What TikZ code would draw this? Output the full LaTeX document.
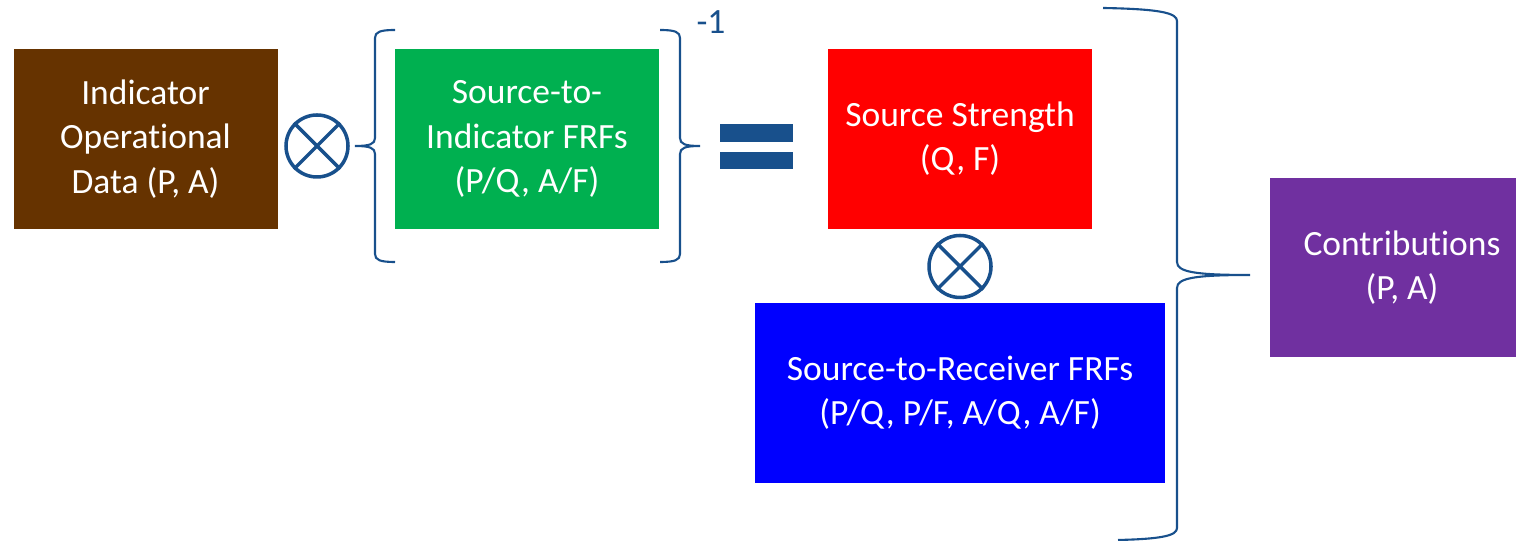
\documentclass[tikz,border=0pt]{standalone}
\usepackage{fontspec}
\setmainfont{Carlito}[RawFeature={-liga;-calt;-dlig}]
\definecolor{indbrown}{RGB}{102,51,0}
\definecolor{indgreen}{RGB}{0,176,80}
\definecolor{srcred}{RGB}{255,0,0}
\definecolor{rcvblue}{RGB}{0,0,255}
\definecolor{contpurple}{RGB}{112,48,160}
\definecolor{opblue}{RGB}{24,80,140}
\tikzset{
  box/.style={rectangle, minimum width=2.64cm, minimum height=1.80cm, inner sep=0pt,
    text=white, align=center, font=\fontsize{10.1}{12.6}\selectfont},
  mult/.style={circle, draw=opblue, line width=1pt, minimum size=0.62cm, inner sep=0pt},
  brace/.style={draw=opblue, line width=0.6pt}
}
\begin{document}
\begin{tikzpicture}
\clip (0,0) rectangle (15.16,-5.41);

\node[box, fill=indbrown] (indicator) at (1.455,-1.39) {Indicator\\Operational\\Data (P, A)};
\node[box, fill=indgreen] (sifrf) at (5.27,-1.39) {Source-to-\\Indicator FRFs\\(P/Q, A/F)};
\node[box, fill=srcred] (strength) at (9.60,-1.39) {Source Strength\\(Q, F)};
\node[box, fill=rcvblue, minimum width=4.10cm] (srfrf) at (9.60,-3.93) {Source-to-Receiver FRFs\\(P/Q, P/F, A/Q, A/F)};
\node[box, fill=contpurple, minimum height=1.79cm] (contrib) at (14.02,-2.675) {Contribut\kern0pt ions\\(P, A)};

\node[mult] (mult1) at (3.17,-1.46) {};
\draw[opblue, line width=1pt] (mult1.north west) -- (mult1.south east) (mult1.north east) -- (mult1.south west);
\node[mult] (mult2) at (9.60,-2.665) {};
\draw[opblue, line width=1pt] (mult2.north west) -- (mult2.south east) (mult2.north east) -- (mult2.south west);

% equals sign
\fill[opblue] (7.20,-1.24) rectangle (7.93,-1.42);
\fill[opblue] (7.20,-1.52) rectangle (7.93,-1.69);

% inverse brackets
\draw[brace] (3.95,-0.30) .. controls (3.80,-0.30) and (3.75,-0.32) .. (3.75,-0.38) -- (3.75,-1.38)
  .. controls (3.75,-1.44) and (3.70,-1.46) .. (3.55,-1.46)
  .. controls (3.70,-1.46) and (3.75,-1.48) .. (3.75,-1.54) -- (3.75,-2.54)
  .. controls (3.75,-2.60) and (3.80,-2.62) .. (3.95,-2.62);
\draw[brace] (6.60,-0.30) .. controls (6.75,-0.30) and (6.80,-0.32) .. (6.80,-0.38) -- (6.80,-1.38)
  .. controls (6.80,-1.44) and (6.85,-1.46) .. (7.00,-1.46)
  .. controls (6.85,-1.46) and (6.80,-1.48) .. (6.80,-1.54) -- (6.80,-2.54)
  .. controls (6.80,-2.60) and (6.75,-2.62) .. (6.60,-2.62);
\node[text=opblue, font=\fontsize{10.1}{12.3}\selectfont] (inv) at (7.11,-0.22) {-1};

% big brace
\draw[brace] (11.03,-0.08) .. controls (11.60,-0.09) and (11.77,-0.13) .. (11.77,-0.21) -- (11.77,-2.62)
  .. controls (11.77,-2.72) and (11.95,-2.75) .. (12.50,-2.75)
  .. controls (11.95,-2.75) and (11.77,-2.78) .. (11.77,-2.88) -- (11.77,-5.28)
  .. controls (11.77,-5.36) and (11.60,-5.39) .. (11.18,-5.40);

\end{tikzpicture}
\end{document}
